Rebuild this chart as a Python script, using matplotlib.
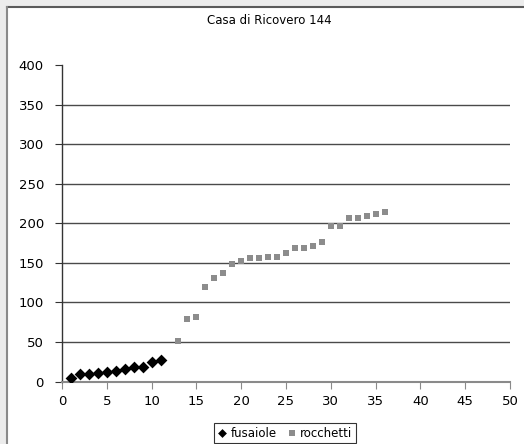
import matplotlib
matplotlib.use("Agg")
import matplotlib.pyplot as plt
from matplotlib.patches import Rectangle

title = "Casa di Ricovero 144"
fus_x = [1, 2, 3, 4, 5, 6, 7, 8, 9, 10, 11]
fus_y = [4, 9, 10, 11, 12, 14, 16, 18, 19, 25, 27]
roc_x = list(range(13, 37))
roc_y = [51, 79, 81, 120, 131, 137, 149, 152, 156, 156, 158, 158,
         162, 169, 169, 171, 176, 196, 196, 207, 207, 209, 212, 214]
x_ticks = [0, 5, 10, 15, 20, 25, 30, 35, 40, 45, 50]
y_ticks = [0, 50, 100, 150, 200, 250, 300, 350, 400]

fig = plt.figure(figsize=(5.24, 4.44), dpi=100)
fig.patch.set_facecolor("#ececec")
W, H = 524, 444
fig.patches.append(Rectangle((7 / W, 0), 1 - 7 / W, 1 - 7 / H, transform=fig.transFigure,
                             facecolor="white", edgecolor="none", zorder=-10))
fig.lines.append(plt.Line2D([7 / W, 1], [1 - 7 / H, 1 - 7 / H], transform=fig.transFigure,
                            color="#5a5a5a", lw=1.5, zorder=-9))
fig.lines.append(plt.Line2D([7 / W, 7 / W], [0, 1 - 7 / H], transform=fig.transFigure,
                            color="#8a8a8a", lw=1.5, zorder=-9))

ax = fig.add_axes([62 / W, (H - 381.6) / H, (510 - 62) / W, (381.6 - 65) / H])
ax.set_zorder(5)
ax.set_facecolor("none")
ax.set_xlim(0, 50)
ax.set_ylim(0, 400)
ax.set_xticks(x_ticks)
ax.set_yticks(y_ticks)
for y in y_ticks[1:-1]:
    ax.axhline(y, color="#4a4a4a", lw=1.0, zorder=1)

ax.scatter(fus_x, fus_y, marker="D", s=36, color="black", zorder=3, label="fusaiole", linewidths=0)
ax.scatter(roc_x, roc_y, marker="s", s=25, color="#8c8c8c", zorder=3, label="rocchetti", linewidths=0)

for s in ["top", "right"]:
    ax.spines[s].set_visible(False)
ax.spines["left"].set_color("#333333")
ax.spines["bottom"].set_color("#8a8a8a")
ax.spines["left"].set_linewidth(1.0)
ax.spines["bottom"].set_linewidth(1.5)
ax.tick_params(axis="y", direction="out", length=5, color="#333333", labelsize=9.5, pad=8)
ax.tick_params(axis="x", direction="out", length=5, color="#8a8a8a", labelsize=9.5, pad=5)

fig.text(269 / W, 1 - 20 / H, title, ha="center", va="center", fontsize=8.5)

leg = fig.legend(loc="center", bbox_to_anchor=(285 / W, 1 - 433 / H), ncol=2, fontsize=8.5,
                 frameon=True, fancybox=False, handlelength=0.8, handletextpad=0.3,
                 columnspacing=0.9, borderpad=0.3, markerscale=0.75)
leg.get_frame().set_edgecolor("black")
leg.get_frame().set_linewidth(0.8)

fig.savefig("out.png", dpi=100, facecolor=fig.get_facecolor())
